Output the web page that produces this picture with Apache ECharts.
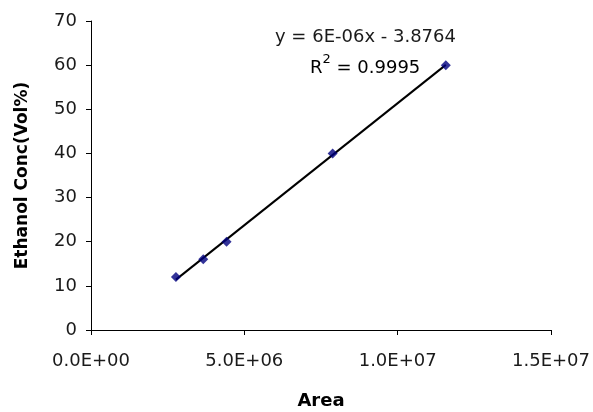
<!DOCTYPE html>
<html>
<head>
<meta charset="utf-8">
<script src="https://cdn.jsdelivr.net/npm/echarts@6/dist/echarts.min.js"></script>
<style>html,body{margin:0;padding:0;background:#fff;}#c{width:593px;height:412px;}</style>
</head>
<body>
<div id="c"></div>
<script>
// Data
const areaValues = [2.77e6, 3.66e6, 4.42e6, 7.88e6, 11.57e6];
const ethanolConc = [12, 16, 20, 40, 60];
const xTicks = [0, 5e6, 1e7, 1.5e7];
const yTicks = [0, 10, 20, 30, 40, 50, 60, 70];
const equationText = 'y = 6E-06x - 3.8764';
const r2Value = '0.9995';

// Least-squares trendline from the data
const n = areaValues.length;
const mx = areaValues.reduce((a, b) => a + b, 0) / n;
const my = ethanolConc.reduce((a, b) => a + b, 0) / n;
let sxy = 0, sxx = 0;
for (let i = 0; i < n; i++) { sxy += (areaValues[i] - mx) * (ethanolConc[i] - my); sxx += (areaValues[i] - mx) ** 2; }
const slope = sxy / sxx, intercept = my - slope * mx;
const xMin = Math.min(...areaValues), xMax = Math.max(...areaValues);
const trend = [[xMin, slope * xMin + intercept], [xMax, slope * xMax + intercept]];

function fmtExp(v) {
  let [m, e] = v.toExponential(1).split('e');
  const sign = e[0] === '-' ? '-' : '+';
  e = e.replace(/[+-]/, '');
  if (e.length < 2) e = '0' + e;
  return m + 'E' + sign + e;
}

const FONT = 'DejaVu Sans';
const TXT = '#1a1a1a';
const chart = echarts.init(document.getElementById('c'));
chart.setOption({
  animation: false,
  backgroundColor: '#fff',
  grid: { left: 91, right: 42, top: 21, bottom: 82, containLabel: false, outerBoundsMode: 'none' },
  xAxis: {
    type: 'value', min: xTicks[0], max: xTicks[xTicks.length - 1], interval: xTicks[1] - xTicks[0],
    name: 'Area', nameLocation: 'middle', nameGap: 62,
    nameTextStyle: { fontFamily: FONT, fontWeight: 'bold', fontSize: 18, color: '#000' },
    axisLine: { lineStyle: { color: '#000', width: 1 } },
    axisTick: { show: true, inside: false, length: 5, lineStyle: { color: '#000' } },
    axisLabel: { fontFamily: FONT, fontSize: 18, color: TXT, margin: 22, formatter: fmtExp },
    splitLine: { show: false }
  },
  yAxis: {
    type: 'value', min: yTicks[0], max: yTicks[yTicks.length - 1], interval: yTicks[1] - yTicks[0],
    name: 'Ethanol Conc(Vol%)', nameLocation: 'middle', nameGap: 60,
    nameTextStyle: { fontFamily: FONT, fontWeight: 'bold', fontSize: 17, color: '#000' },
    axisLine: { show: true, lineStyle: { color: '#000', width: 1 } },
    axisTick: { show: true, inside: false, length: 5, lineStyle: { color: '#000' } },
    axisLabel: { fontFamily: FONT, fontSize: 18, color: TXT, margin: 14 },
    splitLine: { show: false }
  },
  series: [
    {
      type: 'line', data: trend, symbol: 'none', silent: true,
      lineStyle: { color: '#000', width: 2 }, z: 2
    },
    {
      type: 'scatter', data: areaValues.map((x, i) => [x, ethanolConc[i]]),
      symbol: 'diamond', symbolSize: 10,
      itemStyle: { color: '#000080' }, z: 3
    }
  ],
  graphic: [
    {
      type: 'text', left: 275, top: 28,
      style: { text: equationText, fontFamily: FONT, fontSize: 18, fill: TXT }
    },
    {
      type: 'text', left: 310, top: 53,
      style: {
        text: '{n|R}{s|2}{n| = ' + r2Value + '}',
        rich: {
          n: { fontFamily: FONT, fontSize: 18, color: TXT, lineHeight: 24, verticalAlign: 'bottom' },
          s: { fontFamily: FONT, fontSize: 13, color: TXT, lineHeight: 24, verticalAlign: 'top' }
        }
      }
    }
  ]
});
</script>
</body>
</html>
